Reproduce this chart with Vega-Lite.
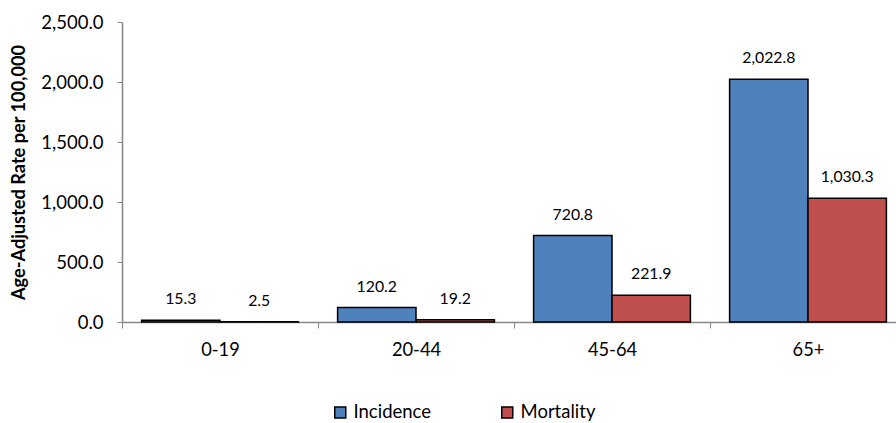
{
  "$schema": "https://vega.github.io/schema/vega-lite/v6.json",
  "autosize": "none",
  "padding": {"left": 122, "top": 22, "right": 0, "bottom": 101},
  "width": 774,
  "height": 300,
  "background": "white",
  "config": {
    "font": "Lato",
    "view": {"stroke": null},
    "axis": {"labelColor": "#000000", "titleColor": "#000000", "domainColor": "#868686", "tickColor": "#868686", "grid": false}
  },
  "data": {
    "values": [
      {"age": "0-19", "measure": "Incidence", "rate": 15.3},
      {"age": "0-19", "measure": "Mortality", "rate": 2.5},
      {"age": "20-44", "measure": "Incidence", "rate": 120.2},
      {"age": "20-44", "measure": "Mortality", "rate": 19.2},
      {"age": "45-64", "measure": "Incidence", "rate": 720.8},
      {"age": "45-64", "measure": "Mortality", "rate": 221.9},
      {"age": "65+", "measure": "Incidence", "rate": 2022.8},
      {"age": "65+", "measure": "Mortality", "rate": 1030.3}
    ]
  },
  "encoding": {
    "x": {
      "field": "age",
      "type": "nominal",
      "sort": ["0-19", "20-44", "45-64", "65+"],
      "scale": {"range": [0, 784], "paddingInner": 0, "paddingOuter": 0},
      "axis": {
        "title": null,
        "labelAngle": 0,
        "labelFontSize": 18.3,
        "labelPadding": 13,
        "tickSize": 6,
        "tickBand": "extent",
        "domainWidth": 1.5
      }
    },
    "xOffset": {
      "field": "measure",
      "type": "nominal",
      "sort": ["Incidence", "Mortality"],
      "scale": {"paddingInner": 0, "paddingOuter": 0.25}
    },
    "y": {
      "field": "rate",
      "type": "quantitative",
      "scale": {"domain": [0, 2500], "nice": false},
      "axis": {
        "title": "Age-Adjusted Rate per 100,000",
        "titleFontSize": 18.2,
        "titleFontWeight": "bold",
        "titlePadding": 12,
        "values": [0, 500, 1000, 1500, 2000, 2500],
        "format": ",.1f",
        "labelFontSize": 18.5,
        "labelPadding": 14,
        "tickSize": 5,
        "domainWidth": 1.5
      }
    }
  },
  "layer": [
    {
      "mark": {"type": "bar", "stroke": "#000000", "strokeWidth": 1.5},
      "encoding": {
        "color": {
          "field": "measure",
          "type": "nominal",
          "sort": ["Incidence", "Mortality"],
          "scale": {"range": ["#4F81BD", "#C0504D"]},
          "legend": {
            "title": null,
            "orient": "none",
            "legendX": 209,
            "legendY": 381,
            "direction": "horizontal",
            "symbolType": "square",
            "symbolSize": 121,
            "symbolStrokeColor": "#000000",
            "symbolStrokeWidth": 1.5,
            "symbolOpacity": 1,
            "labelFontSize": 18.5,
            "labelColor": "#000000",
            "labelOffset": 4,
            "columnPadding": 66
          }
        }
      }
    },
    {
      "mark": {"type": "text", "fontSize": 15.8, "baseline": "alphabetic", "dy": -16, "color": "#000000"},
      "encoding": {
        "text": {"field": "rate", "type": "quantitative", "format": ",.1f"}
      }
    }
  ]
}
